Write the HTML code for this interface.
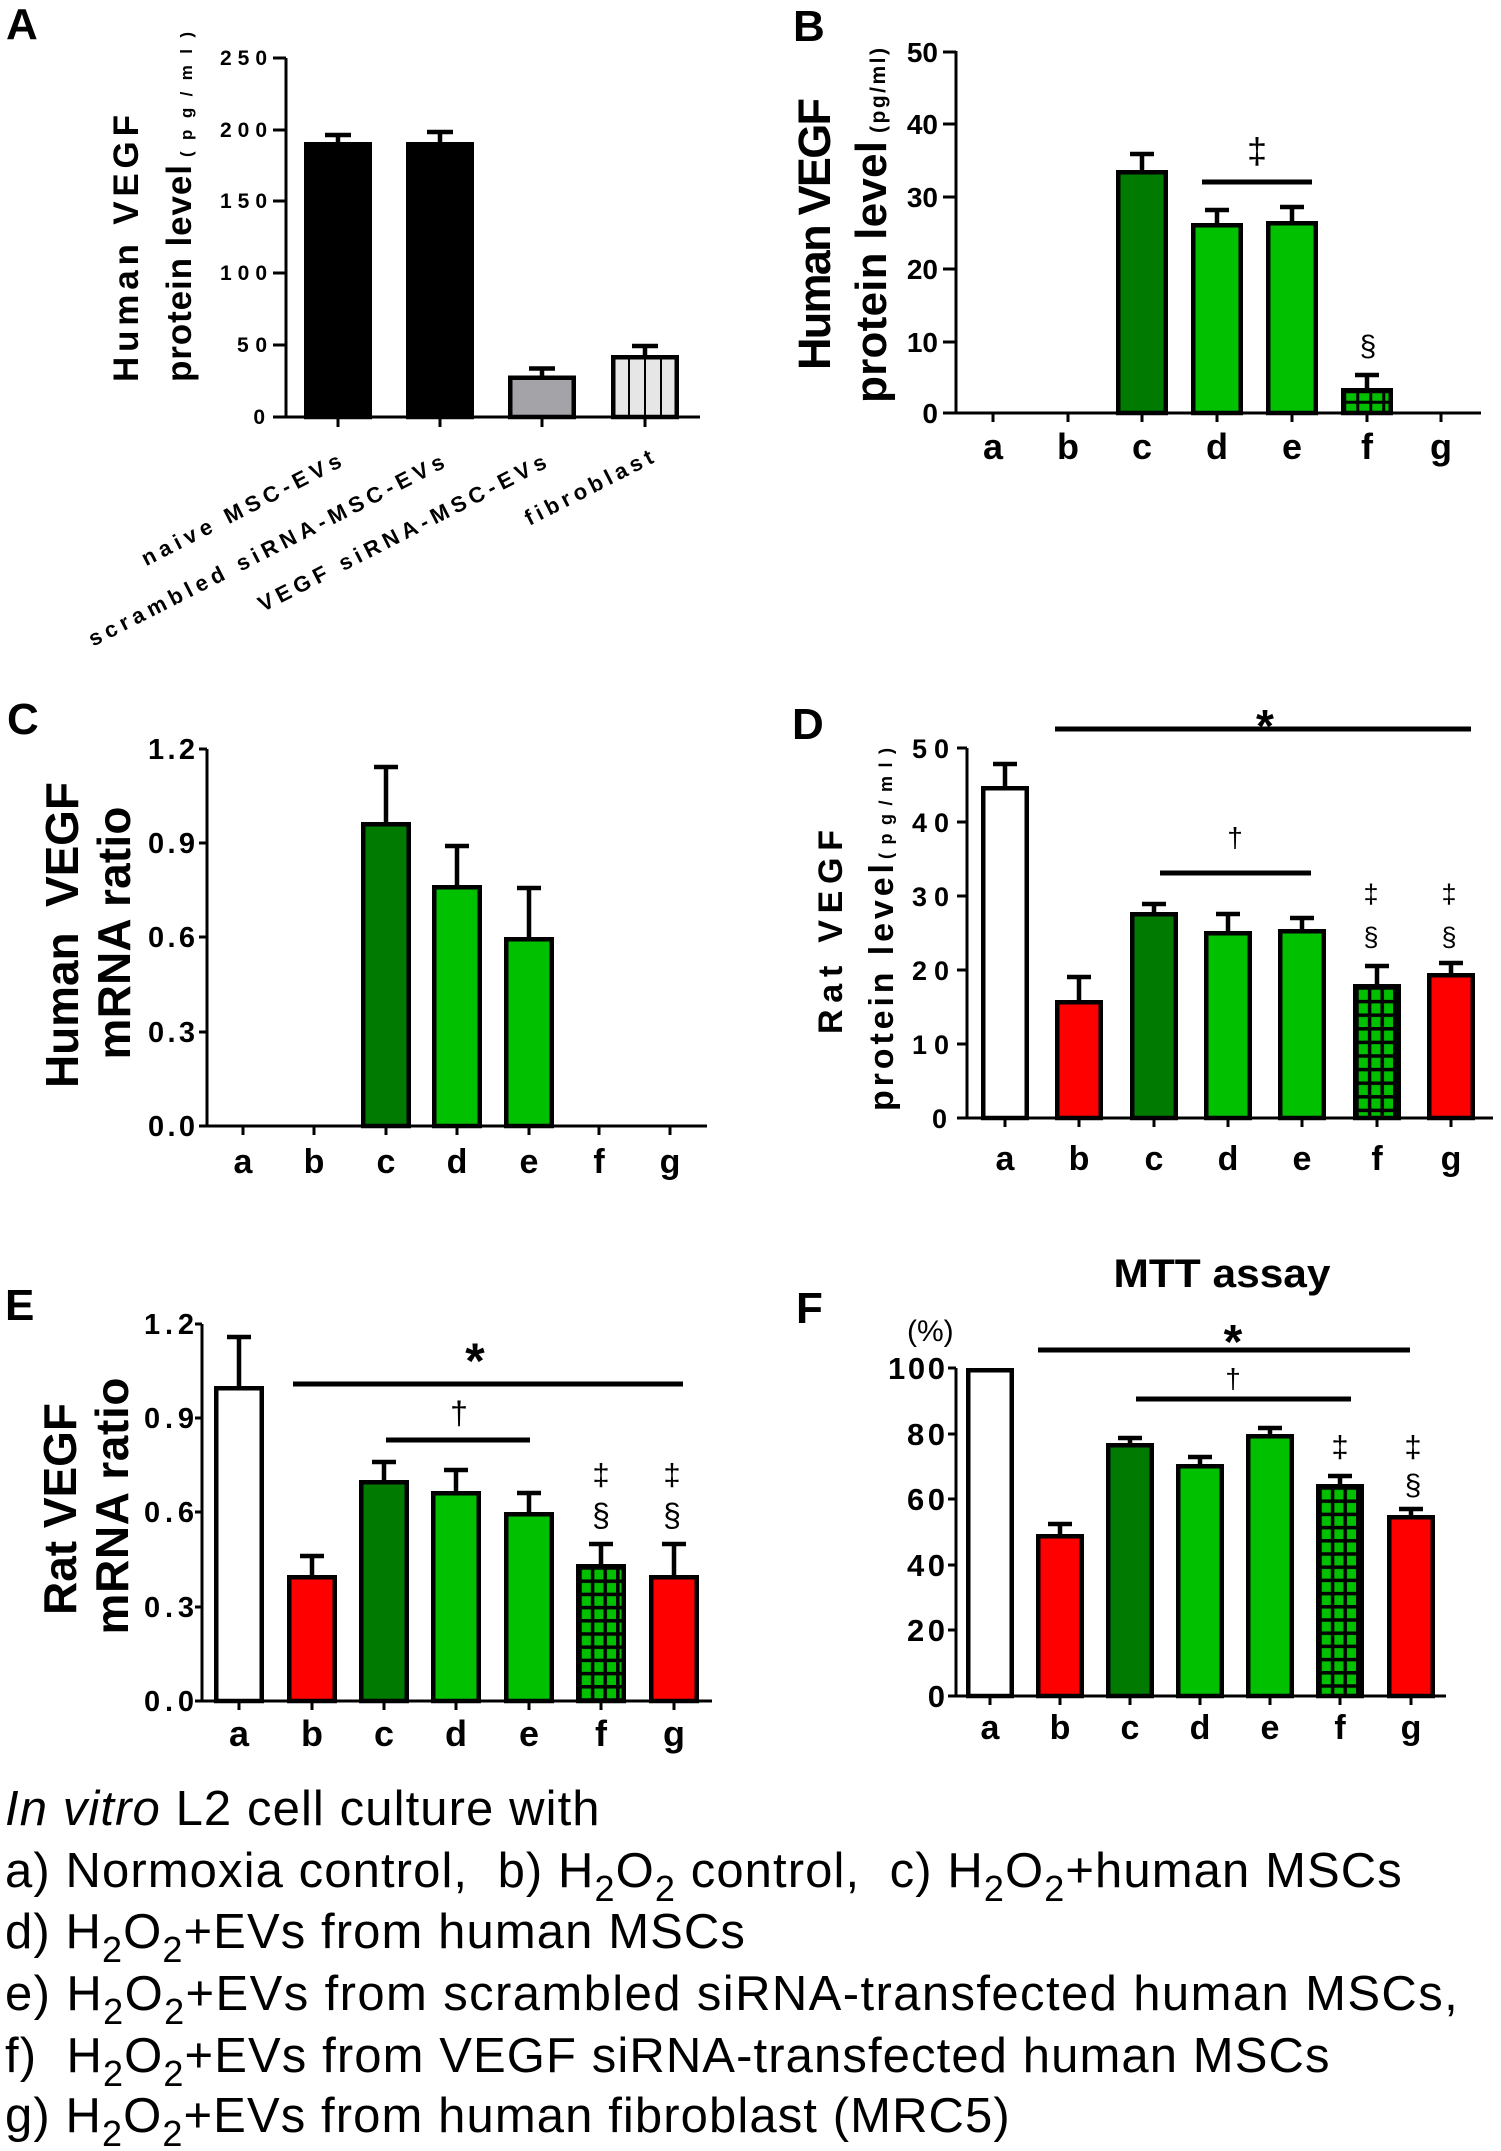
<!DOCTYPE html>
<html><head><meta charset="utf-8"><style>html,body{margin:0;padding:0;background:#fff}svg{display:block}</style></head>
<body>
<svg width="1501" height="2151" viewBox="0 0 1501 2151" xmlns="http://www.w3.org/2000/svg" font-family="'Liberation Sans', Arial, sans-serif">
<defs>
<pattern id="gB" patternUnits="userSpaceOnUse" x="1343.25" y="390.25" width="13" height="10.5"><rect width="13" height="10.5" fill="#00c000"/><rect width="3" height="10.5" fill="#000"/><rect width="13" height="3" fill="#000"/></pattern>
<pattern id="gD" patternUnits="userSpaceOnUse" x="1355.25" y="986.25" width="12.6" height="13.6"><rect width="12.6" height="13.6" fill="#00c000"/><rect width="3.5" height="13.6" fill="#000"/><rect width="12.6" height="3.5" fill="#000"/></pattern>
<pattern id="gE" patternUnits="userSpaceOnUse" x="578.25" y="1566.25" width="12.6" height="13.2"><rect width="12.6" height="13.2" fill="#00c000"/><rect width="3.5" height="13.2" fill="#000"/><rect width="12.6" height="3.5" fill="#000"/></pattern>
<pattern id="gF" patternUnits="userSpaceOnUse" x="1318.25" y="1486.25" width="12.6" height="13.2"><rect width="12.6" height="13.2" fill="#00c000"/><rect width="3.5" height="13.2" fill="#000"/><rect width="12.6" height="3.5" fill="#000"/></pattern>
</defs>

<g font-weight="bold" font-size="44" fill="#000">
<text x="6" y="39">A</text>
<text x="793" y="41">B</text>
<text x="7" y="734">C</text>
<text x="792" y="739">D</text>
<text x="5" y="1320">E</text>
<text x="796" y="1323">F</text>
</g>

<!-- ================= PANEL A ================= -->
<g stroke="#000" stroke-width="3" fill="none">
<path d="M286 58V418 M285 417H700"/>
<path d="M273 58H286 M273 130H286 M273 201H286 M273 273H286 M273 345H286 M273 417H286"/>
<path d="M338 417V427 M440 417V427 M542 417V427 M645 417V427"/>
</g>
<g font-size="21" font-weight="bold" text-anchor="end">
<text x="267" y="65" textLength="47" lengthAdjust="spacing">250</text>
<text x="267" y="137" textLength="47" lengthAdjust="spacing">200</text>
<text x="267" y="208" textLength="47" lengthAdjust="spacing">150</text>
<text x="267" y="280" textLength="47" lengthAdjust="spacing">100</text>
<text x="267" y="352" textLength="30" lengthAdjust="spacing">50</text>
<text x="265" y="424">0</text>
</g>
<text transform="translate(138,248.5) rotate(-90)" text-anchor="middle" font-size="35" font-weight="bold" textLength="267" lengthAdjust="spacing">Human VEGF</text>
<text transform="translate(191,273.5) rotate(-90)" text-anchor="middle" font-size="35" font-weight="bold" textLength="217" lengthAdjust="spacing">protein level</text>
<text transform="translate(192,94.5) rotate(-90)" text-anchor="middle" font-size="17" font-weight="bold" textLength="125" lengthAdjust="spacing">(pg/ml)</text>
<g stroke="#000" stroke-width="4.5">
<rect x="306.25" y="144.25" width="63.5" height="272.75" fill="#000"/>
<rect x="408.25" y="144.25" width="63.5" height="272.75" fill="#000"/>
<rect x="510.25" y="377.75" width="63.5" height="39.25" fill="#a3a3a8"/>
<rect x="613.25" y="357.25" width="63.5" height="59.75" fill="#e6e6e6"/>
</g>
<path d="M629 357V417 M645 357V417 M661 357V417" stroke="#000" stroke-width="2"/>
<path d="M338 142V135 M325 135H351 M440 142V132 M427 132H453 M542 375.5V368.5 M529 368.5H555 M645 355V346 M632 346H658" stroke="#000" stroke-width="4.5" fill="none"/>
<g font-size="22" font-weight="bold" text-anchor="end">
<text transform="translate(343,466) rotate(-27)" textLength="221" lengthAdjust="spacing">naive MSC-EVs</text>
<text transform="translate(446,467) rotate(-27)" textLength="396" lengthAdjust="spacing">scrambled siRNA-MSC-EVs</text>
<text transform="translate(548,467) rotate(-27)" textLength="320" lengthAdjust="spacing">VEGF siRNA-MSC-EVs</text>
<text transform="translate(655,462) rotate(-27)" textLength="141" lengthAdjust="spacing">fibroblast</text>
</g>

<!-- ================= PANEL B ================= -->
<g stroke="#000" stroke-width="3" fill="none">
<path d="M956 51V414 M955 413H1481"/>
<path d="M943 52H956 M943 124H956 M943 197H956 M943 269H956 M943 342H956 M943 413H956"/>
<path d="M993 413V422 M1068 413V422 M1142 413V422 M1217 413V422 M1292 413V422 M1367 413V422 M1441 413V422"/>
</g>
<g font-size="28" font-weight="bold" text-anchor="end">
<text x="938" y="62">50</text>
<text x="938" y="134">40</text>
<text x="938" y="207">30</text>
<text x="938" y="279">20</text>
<text x="938" y="352">10</text>
<text x="938" y="423">0</text>
</g>
<text transform="translate(830,234) rotate(-90)" text-anchor="middle" font-size="45" font-weight="bold" textLength="272" lengthAdjust="spacing">Human VEGF</text>
<text transform="translate(886,272) rotate(-90)" text-anchor="middle" font-size="44" font-weight="bold" textLength="262" lengthAdjust="spacing">protein level</text>
<text transform="translate(885,90.5) rotate(-90)" text-anchor="middle" font-size="21" font-weight="bold" textLength="85" lengthAdjust="spacing">(pg/ml)</text>
<g stroke="#000" stroke-width="4.5">
<rect x="1118.25" y="172.25" width="47.5" height="240.75" fill="#007a00"/>
<rect x="1193.25" y="225.25" width="47.5" height="187.75" fill="#00c000"/>
<rect x="1268.25" y="223.25" width="47.5" height="189.75" fill="#00c000"/>
<rect x="1343.25" y="390.25" width="47.5" height="22.75" fill="url(#gB)"/>
</g>
<path d="M1142 170V154 M1130 154H1154 M1217 223V210 M1205 210H1229 M1292 221V207 M1280 207H1304 M1367 388V375 M1355 375H1379" stroke="#000" stroke-width="4.5" fill="none"/>
<path d="M1202 182H1312" stroke="#000" stroke-width="5"/>
<text x="1257" y="163" text-anchor="middle" font-size="36">‡</text>
<text x="1368" y="356" text-anchor="middle" font-size="30">§</text>
<g font-size="36" font-weight="bold" text-anchor="middle">
<text x="993" y="459">a</text><text x="1068" y="459">b</text><text x="1142" y="459">c</text><text x="1217" y="459">d</text><text x="1292" y="459">e</text><text x="1367" y="459">f</text><text x="1441" y="459">g</text>
</g>

<!-- ================= PANEL C ================= -->
<g stroke="#000" stroke-width="3" fill="none">
<path d="M207 749V1127 M206 1126H707"/>
<path d="M199 749H207 M199 843H207 M199 937H207 M199 1032H207 M199 1126H207"/>
<path d="M243 1126V1135 M314 1126V1135 M386 1126V1135 M457 1126V1135 M529 1126V1135 M599 1126V1135 M670 1126V1135"/>
</g>
<g font-size="29" font-weight="bold" text-anchor="end">
<text x="195" y="759" textLength="47" lengthAdjust="spacing">1.2</text>
<text x="195" y="853" textLength="47" lengthAdjust="spacing">0.9</text>
<text x="195" y="947" textLength="47" lengthAdjust="spacing">0.6</text>
<text x="195" y="1042" textLength="47" lengthAdjust="spacing">0.3</text>
<text x="195" y="1136" textLength="47" lengthAdjust="spacing">0.0</text>
</g>
<text transform="translate(78,935) rotate(-90)" text-anchor="middle" font-size="46" font-weight="bold" textLength="306" lengthAdjust="spacing" style="white-space:pre">Human  VEGF</text>
<text transform="translate(130,933) rotate(-90)" text-anchor="middle" font-size="46" font-weight="bold" textLength="253" lengthAdjust="spacing">mRNA ratio</text>
<g stroke="#000" stroke-width="4.5">
<rect x="363.25" y="824.25" width="45.5" height="301.75" fill="#007a00"/>
<rect x="434.25" y="887.25" width="45.5" height="238.75" fill="#00c000"/>
<rect x="506.25" y="939.25" width="45.5" height="186.75" fill="#00c000"/>
</g>
<path d="M386 822V767 M374 767H398 M457 885V846 M445 846H469 M529 937V888 M517 888H541" stroke="#000" stroke-width="4.5" fill="none"/>
<g font-size="34" font-weight="bold" text-anchor="middle">
<text x="243" y="1173">a</text><text x="314" y="1173">b</text><text x="386" y="1173">c</text><text x="457" y="1173">d</text><text x="529" y="1173">e</text><text x="599" y="1173">f</text><text x="670" y="1173">g</text>
</g>

<!-- ================= PANEL D ================= -->
<g stroke="#000" stroke-width="3" fill="none">
<path d="M967 748V1119 M960 1118H1493"/>
<path d="M957 748H967 M957 822H967 M957 896H967 M957 970H967 M957 1044H967 M957 1118H967"/>
<path d="M1005 1118V1127 M1079 1118V1127 M1154 1118V1127 M1228 1118V1127 M1302 1118V1127 M1377 1118V1127 M1451 1118V1127"/>
</g>
<g font-size="27" font-weight="bold" text-anchor="end">
<text x="949" y="758" textLength="37" lengthAdjust="spacing">50</text>
<text x="949" y="832" textLength="37" lengthAdjust="spacing">40</text>
<text x="949" y="906" textLength="37" lengthAdjust="spacing">30</text>
<text x="949" y="980" textLength="37" lengthAdjust="spacing">20</text>
<text x="949" y="1054" textLength="37" lengthAdjust="spacing">10</text>
<text x="947" y="1128">0</text>
</g>
<text transform="translate(842,932) rotate(-90)" text-anchor="middle" font-size="34" font-weight="bold" textLength="204" lengthAdjust="spacing">Rat VEGF</text>
<text transform="translate(893,987.5) rotate(-90)" text-anchor="middle" font-size="34" font-weight="bold" textLength="247" lengthAdjust="spacing">protein level</text>
<text transform="translate(892,803.5) rotate(-90)" text-anchor="middle" font-size="18" font-weight="bold" textLength="111" lengthAdjust="spacing">(pg/ml)</text>
<g stroke="#000" stroke-width="4.5">
<rect x="983.25" y="788.25" width="43.5" height="329.75" fill="#fff"/>
<rect x="1057.25" y="1002.25" width="43.5" height="115.75" fill="#ff0000"/>
<rect x="1132.25" y="914.25" width="43.5" height="203.75" fill="#007a00"/>
<rect x="1206.25" y="933.25" width="43.5" height="184.75" fill="#00c000"/>
<rect x="1280.25" y="931.25" width="43.5" height="186.75" fill="#00c000"/>
<rect x="1355.25" y="986.25" width="43.5" height="131.75" fill="url(#gD)"/>
<rect x="1429.25" y="975.25" width="43.5" height="142.75" fill="#ff0000"/>
</g>
<path d="M1005 786V764 M993 764H1017 M1079 1000V977 M1067 977H1091 M1154 912V904 M1142 904H1166 M1228 931V914 M1216 914H1240 M1302 929V918 M1290 918H1314 M1377 984V966 M1365 966H1389 M1451 973V963 M1439 963H1463" stroke="#000" stroke-width="4.5" fill="none"/>
<path d="M1055 729H1471 M1160 873H1311" stroke="#000" stroke-width="5"/>
<text x="1265" y="742" text-anchor="middle" font-size="46" font-weight="bold">*</text>
<text x="1235" y="847" text-anchor="middle" font-size="28">†</text>
<text x="1371" y="903" text-anchor="middle" font-size="27">‡</text>
<text x="1371" y="946" text-anchor="middle" font-size="27">§</text>
<text x="1449" y="903" text-anchor="middle" font-size="27">‡</text>
<text x="1449" y="946" text-anchor="middle" font-size="27">§</text>
<g font-size="34" font-weight="bold" text-anchor="middle">
<text x="1005" y="1170">a</text><text x="1079" y="1170">b</text><text x="1154" y="1170">c</text><text x="1228" y="1170">d</text><text x="1302" y="1170">e</text><text x="1377" y="1170">f</text><text x="1451" y="1170">g</text>
</g>

<!-- ================= PANEL E ================= -->
<g stroke="#000" stroke-width="3" fill="none">
<path d="M202 1324V1702 M201 1701H712"/>
<path d="M195 1324H202 M195 1418H202 M195 1512H202 M195 1607H202 M195 1701H202"/>
<path d="M239 1701V1710 M312 1701V1710 M384 1701V1710 M456 1701V1710 M529 1701V1710 M601 1701V1710 M674 1701V1710"/>
</g>
<g font-size="29" font-weight="bold" text-anchor="end">
<text x="194" y="1334" textLength="50" lengthAdjust="spacing">1.2</text>
<text x="194" y="1428" textLength="50" lengthAdjust="spacing">0.9</text>
<text x="194" y="1522" textLength="50" lengthAdjust="spacing">0.6</text>
<text x="194" y="1617" textLength="50" lengthAdjust="spacing">0.3</text>
<text x="194" y="1711" textLength="50" lengthAdjust="spacing">0.0</text>
</g>
<text transform="translate(76,1509) rotate(-90)" text-anchor="middle" font-size="46" font-weight="bold" textLength="212" lengthAdjust="spacing">Rat VEGF</text>
<text transform="translate(128,1506) rotate(-90)" text-anchor="middle" font-size="46" font-weight="bold" textLength="257" lengthAdjust="spacing">mRNA ratio</text>
<g stroke="#000" stroke-width="4.5">
<rect x="216.25" y="1388.25" width="45.5" height="312.75" fill="#fff"/>
<rect x="289.25" y="1577.25" width="45.5" height="123.75" fill="#ff0000"/>
<rect x="361.25" y="1482.25" width="45.5" height="218.75" fill="#007a00"/>
<rect x="433.25" y="1493.25" width="45.5" height="207.75" fill="#00c000"/>
<rect x="506.25" y="1514.25" width="45.5" height="186.75" fill="#00c000"/>
<rect x="578.25" y="1566.25" width="45.5" height="134.75" fill="url(#gE)"/>
<rect x="651.25" y="1577.25" width="45.5" height="123.75" fill="#ff0000"/>
</g>
<path d="M239 1386V1337 M227 1337H251 M312 1575V1556 M300 1556H324 M384 1480V1462 M372 1462H396 M456 1491V1470 M444 1470H468 M529 1512V1493 M517 1493H541 M601 1564V1544 M589 1544H613 M674 1575V1544 M662 1544H686" stroke="#000" stroke-width="4.5" fill="none"/>
<path d="M293 1384H683 M386 1440H530" stroke="#000" stroke-width="5"/>
<text x="475" y="1378" text-anchor="middle" font-size="50" font-weight="bold">*</text>
<text x="459" y="1424" text-anchor="middle" font-size="32">†</text>
<text x="601" y="1485" text-anchor="middle" font-size="31">‡</text>
<text x="601" y="1526" text-anchor="middle" font-size="32">§</text>
<text x="672" y="1485" text-anchor="middle" font-size="31">‡</text>
<text x="672" y="1526" text-anchor="middle" font-size="32">§</text>
<g font-size="36" font-weight="bold" text-anchor="middle">
<text x="239" y="1746">a</text><text x="312" y="1746">b</text><text x="384" y="1746">c</text><text x="456" y="1746">d</text><text x="529" y="1746">e</text><text x="601" y="1746">f</text><text x="674" y="1746">g</text>
</g>

<!-- ================= PANEL F ================= -->
<text x="1222" y="1287" text-anchor="middle" font-size="40" font-weight="bold" textLength="217" lengthAdjust="spacingAndGlyphs">MTT assay</text>
<text x="907" y="1341" font-size="30">(%)</text>
<g stroke="#000" stroke-width="3" fill="none">
<path d="M956 1368V1697 M948 1696H1446"/>
<path d="M948 1368H956 M948 1434H956 M948 1499H956 M948 1565H956 M948 1630H956 M948 1696H956"/>
<path d="M990 1696V1705 M1060 1696V1705 M1130 1696V1705 M1200 1696V1705 M1270 1696V1705 M1340 1696V1705 M1411 1696V1705"/>
</g>
<g font-size="31" font-weight="bold" text-anchor="end">
<text x="945" y="1379" textLength="57" lengthAdjust="spacing">100</text>
<text x="945" y="1445" textLength="38" lengthAdjust="spacing">80</text>
<text x="945" y="1510" textLength="38" lengthAdjust="spacing">60</text>
<text x="945" y="1576" textLength="38" lengthAdjust="spacing">40</text>
<text x="945" y="1641" textLength="38" lengthAdjust="spacing">20</text>
<text x="945" y="1707">0</text>
</g>
<g stroke="#000" stroke-width="4.5">
<rect x="968.25" y="1370.25" width="43.5" height="325.75" fill="#fff"/>
<rect x="1038.25" y="1536.25" width="43.5" height="159.75" fill="#ff0000"/>
<rect x="1108.25" y="1445.25" width="43.5" height="250.75" fill="#007a00"/>
<rect x="1178.25" y="1466.25" width="43.5" height="229.75" fill="#00c000"/>
<rect x="1248.25" y="1436.25" width="43.5" height="259.75" fill="#00c000"/>
<rect x="1318.25" y="1486.25" width="43.5" height="209.75" fill="url(#gF)"/>
<rect x="1389.25" y="1517.25" width="43.5" height="178.75" fill="#ff0000"/>
</g>
<path d="M1060 1534V1524 M1048 1524H1072 M1130 1443V1438 M1118 1438H1142 M1200 1464V1457 M1188 1457H1212 M1270 1434V1428 M1258 1428H1282 M1340 1484V1476 M1328 1476H1352 M1411 1515V1509 M1399 1509H1423" stroke="#000" stroke-width="4.5" fill="none"/>
<path d="M1038 1350H1410 M1136 1399H1351" stroke="#000" stroke-width="5"/>
<text x="1233" y="1358" text-anchor="middle" font-size="48" font-weight="bold">*</text>
<text x="1233" y="1388" text-anchor="middle" font-size="28">†</text>
<text x="1340" y="1457" text-anchor="middle" font-size="31">‡</text>
<text x="1413" y="1457" text-anchor="middle" font-size="31">‡</text>
<text x="1413" y="1495" text-anchor="middle" font-size="30">§</text>
<g font-size="34" font-weight="bold" text-anchor="middle">
<text x="990" y="1739">a</text><text x="1060" y="1739">b</text><text x="1130" y="1739">c</text><text x="1200" y="1739">d</text><text x="1270" y="1739">e</text><text x="1340" y="1739">f</text><text x="1411" y="1739">g</text>
</g>

<!-- ================= LEGEND TEXT ================= -->
<g font-size="49" fill="#000" style="white-space:pre" letter-spacing="1.1">
<text x="5" y="1825"><tspan font-style="italic">In vitro</tspan> L2 cell culture with</text>
<text x="5" y="1887">a) Normoxia control,&#160; b) H<tspan font-size="36" dy="14">2</tspan><tspan dy="-14">O</tspan><tspan font-size="36" dy="14">2</tspan><tspan dy="-14"> control,&#160; c) H</tspan><tspan font-size="36" dy="14">2</tspan><tspan dy="-14">O</tspan><tspan font-size="36" dy="14">2</tspan><tspan dy="-14">+human MSCs</tspan></text>
<text x="5" y="1948">d) H<tspan font-size="36" dy="14">2</tspan><tspan dy="-14">O</tspan><tspan font-size="36" dy="14">2</tspan><tspan dy="-14">+EVs from human MSCs</tspan></text>
<text x="5" y="2010" letter-spacing="1.4">e) H<tspan font-size="36" dy="14">2</tspan><tspan dy="-14">O</tspan><tspan font-size="36" dy="14">2</tspan><tspan dy="-14">+EVs from scrambled siRNA-transfected human MSCs,</tspan></text>
<text x="5" y="2072">f)&#160; H<tspan font-size="36" dy="14">2</tspan><tspan dy="-14">O</tspan><tspan font-size="36" dy="14">2</tspan><tspan dy="-14">+EVs from VEGF siRNA-transfected human MSCs</tspan></text>
<text x="5" y="2132">g) H<tspan font-size="36" dy="14">2</tspan><tspan dy="-14">O</tspan><tspan font-size="36" dy="14">2</tspan><tspan dy="-14">+EVs from human fibroblast (MRC5)</tspan></text>
</g>
</svg>
</body></html>
